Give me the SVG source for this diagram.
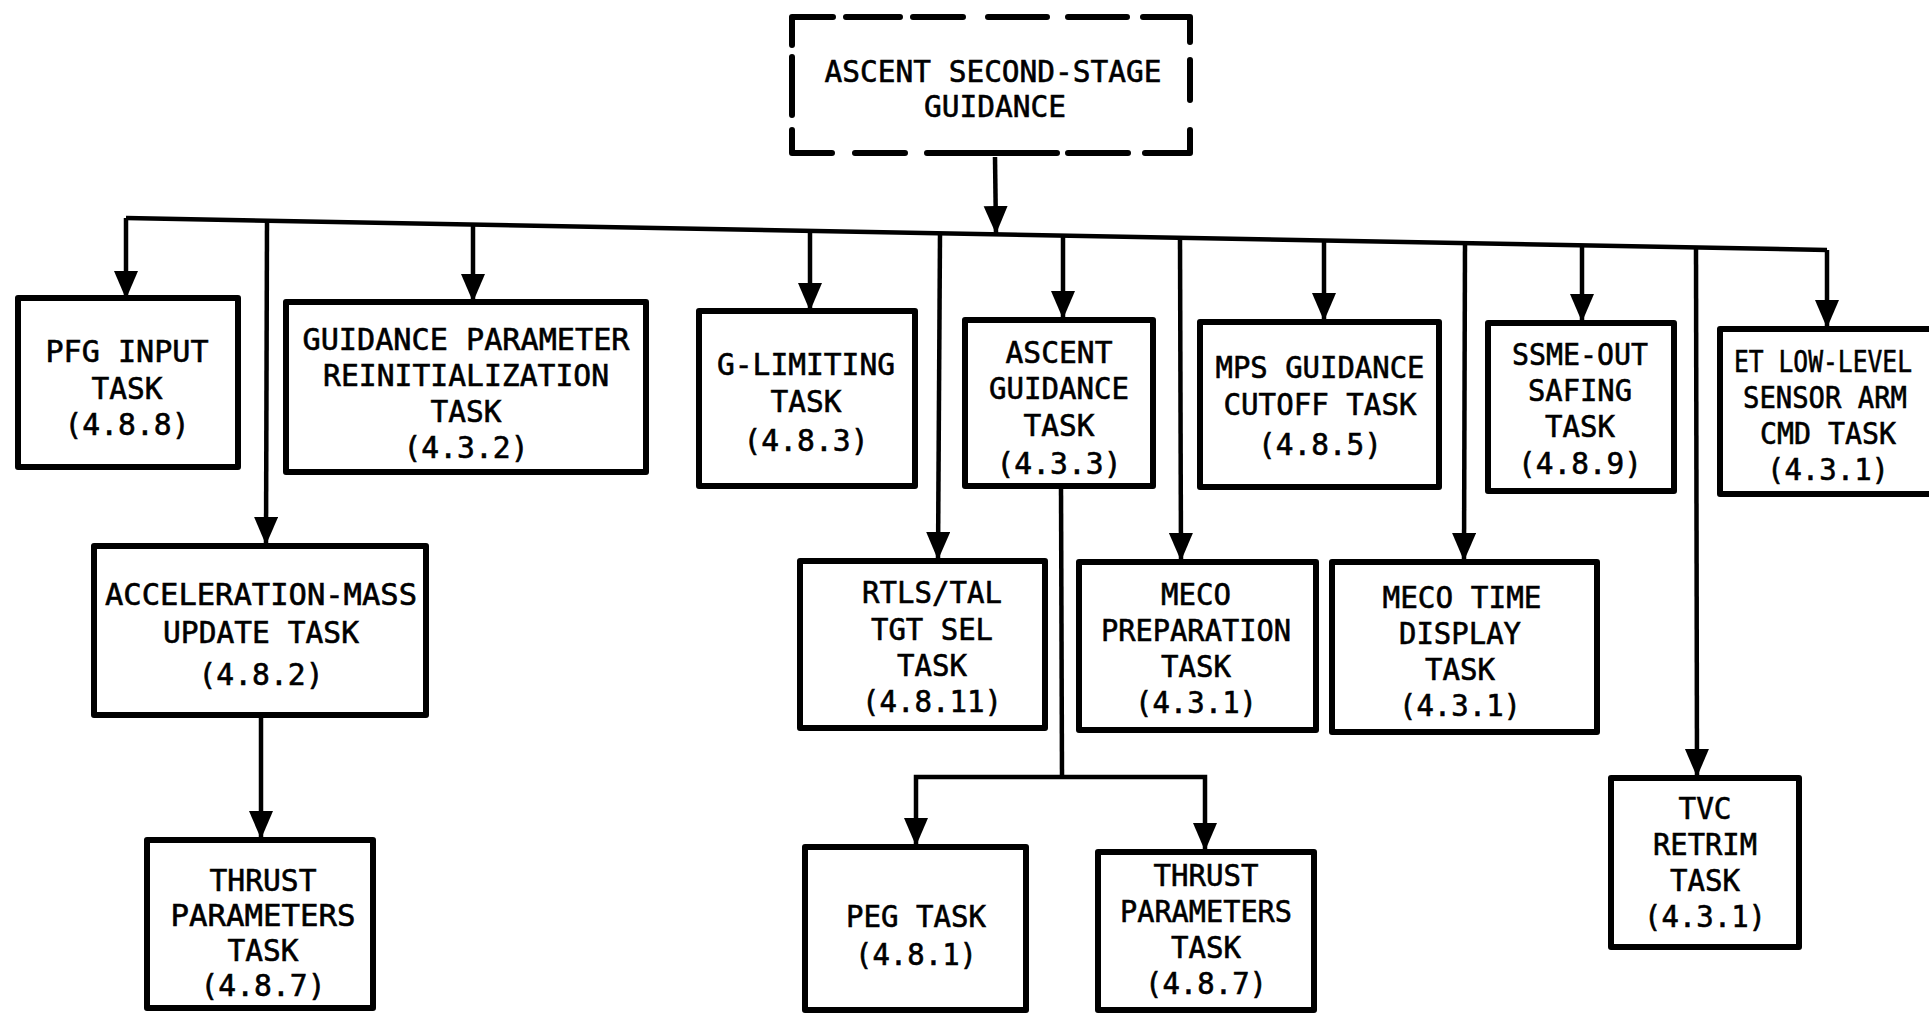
<svg xmlns="http://www.w3.org/2000/svg" width="1929" height="1013" viewBox="0 0 1929 1013">
<defs>
<style>
.box{fill:#fff;stroke:#000;stroke-width:6;stroke-linejoin:round}
.dash{fill:none;stroke:#000;stroke-width:6;stroke-linecap:round;stroke-linejoin:round}
.ln{fill:none;stroke:#000;stroke-width:4.5}
.ar{fill:none;stroke:#000;stroke-width:4.5;marker-end:url(#ah)}
text{font-family:"DejaVu Sans Mono","Liberation Mono",monospace;font-size:30px;fill:#000;stroke:#000;stroke-width:0.6;text-anchor:middle}
</style>
<marker id="ah" markerUnits="userSpaceOnUse" markerWidth="30" markerHeight="26" refX="28" refY="12" orient="auto" viewBox="0 0 30 26">
<path d="M0,0 L28,12 L0,24 Z" fill="#000"/>
</marker>
</defs>
<rect width="1929" height="1013" fill="#fff"/>

<g id="connectors">
<path class="ln" d="M126,218 L1827,250"/>
<path class="ar" d="M995,157 L996,234"/>
<path class="ar" d="M126,218 L126,299"/>
<path class="ar" d="M473,224.5 L473,302"/>
<path class="ar" d="M810,231 L810,311"/>
<path class="ar" d="M1063,235.6 L1063,319"/>
<path class="ar" d="M1324,240.5 L1324,321"/>
<path class="ar" d="M1582,245.4 L1582,322"/>
<path class="ar" d="M1827,250 L1827,328"/>
<path class="ar" d="M267,220.7 L266,545"/>
<path class="ar" d="M940,233.3 L938,560"/>
<path class="ar" d="M1180,237.8 L1181,561"/>
<path class="ar" d="M1465,243.2 L1464,561"/>
<path class="ar" d="M1696,247.5 L1697,777"/>
<path class="ar" d="M261,715 L261,839"/>
<path class="ln" d="M1061,486 L1062,777"/>
<path class="ar" d="M1062,777 L916,777 L916,846"/>
<path class="ar" d="M1062,777 L1205,777 L1205,851"/>
</g>

<g id="ascent-second-stage-guidance">
<path class="dash" d="M792,45 L792,17 L833,17 M846,17 L900,17 M913,17 L963,17 M988,17 L1047,17 M1068,17 L1127,17 M1143,17 L1190,17 L1190,42 M1190,60 L1190,100 M1190,130 L1190,153 L1145,153 M1128,153 L1068,153 M1057,153 L927,153 M905,153 L855,153 M832,153 L792,153 L792,130 M792,57 L792,115"/>
<text x="993" y="82" textLength="337" lengthAdjust="spacingAndGlyphs">ASCENT SECOND-STAGE</text>
<text x="995" y="117" textLength="142" lengthAdjust="spacingAndGlyphs">GUIDANCE</text>
</g>

<g id="pfg-input-task">
<rect class="box" x="18" y="298" width="220" height="169"/>
<text x="127" y="362" textLength="163" lengthAdjust="spacingAndGlyphs">PFG INPUT</text>
<text x="127" y="399" textLength="71" lengthAdjust="spacingAndGlyphs">TASK</text>
<text x="127" y="435" textLength="125" lengthAdjust="spacingAndGlyphs">(4.8.8)</text>
</g>

<g id="guidance-parameter-reinit-task">
<rect class="box" x="286" y="302" width="360" height="170"/>
<text x="466" y="350" textLength="327" lengthAdjust="spacingAndGlyphs">GUIDANCE PARAMETER</text>
<text x="466" y="386" textLength="286" lengthAdjust="spacingAndGlyphs">REINITIALIZATION</text>
<text x="466" y="422" textLength="71" lengthAdjust="spacingAndGlyphs">TASK</text>
<text x="466" y="458" textLength="125" lengthAdjust="spacingAndGlyphs">(4.3.2)</text>
</g>

<g id="g-limiting-task">
<rect class="box" x="699" y="311" width="216" height="175"/>
<text x="806" y="375" textLength="178" lengthAdjust="spacingAndGlyphs">G-LIMITING</text>
<text x="806" y="412" textLength="71" lengthAdjust="spacingAndGlyphs">TASK</text>
<text x="806" y="451" textLength="125" lengthAdjust="spacingAndGlyphs">(4.8.3)</text>
</g>

<g id="ascent-guidance-task">
<rect class="box" x="965" y="320" width="188" height="166"/>
<text x="1059" y="363" textLength="107" lengthAdjust="spacingAndGlyphs">ASCENT</text>
<text x="1059" y="399" textLength="140" lengthAdjust="spacingAndGlyphs">GUIDANCE</text>
<text x="1059" y="436" textLength="71" lengthAdjust="spacingAndGlyphs">TASK</text>
<text x="1059" y="474" textLength="125" lengthAdjust="spacingAndGlyphs">(4.3.3)</text>
</g>

<g id="mps-guidance-cutoff-task">
<rect class="box" x="1200" y="322" width="239" height="165"/>
<text x="1320" y="378" textLength="209" lengthAdjust="spacingAndGlyphs">MPS GUIDANCE</text>
<text x="1320" y="415" textLength="193" lengthAdjust="spacingAndGlyphs">CUTOFF TASK</text>
<text x="1320" y="455" textLength="124" lengthAdjust="spacingAndGlyphs">(4.8.5)</text>
</g>

<g id="ssme-out-safing-task">
<rect class="box" x="1488" y="323" width="186" height="168"/>
<text x="1580" y="365" textLength="136" lengthAdjust="spacingAndGlyphs">SSME-OUT</text>
<text x="1580" y="401" textLength="104" lengthAdjust="spacingAndGlyphs">SAFING</text>
<text x="1580" y="437" textLength="70" lengthAdjust="spacingAndGlyphs">TASK</text>
<text x="1580" y="474" textLength="124" lengthAdjust="spacingAndGlyphs">(4.8.9)</text>
</g>

<g id="et-low-level-sensor-arm-cmd-task">
<rect class="box" x="1720" y="329" width="230" height="165"/>
<text x="1823" y="372" textLength="178" lengthAdjust="spacingAndGlyphs">ET LOW-LEVEL</text>
<text x="1825" y="408" textLength="164" lengthAdjust="spacingAndGlyphs">SENSOR ARM</text>
<text x="1828" y="444" textLength="136" lengthAdjust="spacingAndGlyphs">CMD TASK</text>
<text x="1828" y="480" textLength="122" lengthAdjust="spacingAndGlyphs">(4.3.1)</text>
</g>

<g id="acceleration-mass-update-task">
<rect class="box" x="94" y="546" width="332" height="169"/>
<text x="261" y="605" textLength="312" lengthAdjust="spacingAndGlyphs">ACCELERATION-MASS</text>
<text x="261" y="643" textLength="196" lengthAdjust="spacingAndGlyphs">UPDATE TASK</text>
<text x="261" y="685" textLength="125" lengthAdjust="spacingAndGlyphs">(4.8.2)</text>
</g>

<g id="thrust-parameters-task-1">
<rect class="box" x="147" y="840" width="226" height="168"/>
<text x="263" y="891" textLength="107" lengthAdjust="spacingAndGlyphs">THRUST</text>
<text x="263" y="926" textLength="185" lengthAdjust="spacingAndGlyphs">PARAMETERS</text>
<text x="263" y="961" textLength="71" lengthAdjust="spacingAndGlyphs">TASK</text>
<text x="263" y="996" textLength="125" lengthAdjust="spacingAndGlyphs">(4.8.7)</text>
</g>

<g id="rtls-tal-tgt-sel-task">
<rect class="box" x="800" y="561" width="245" height="167"/>
<text x="932" y="603" textLength="140" lengthAdjust="spacingAndGlyphs">RTLS/TAL</text>
<text x="932" y="640" textLength="122" lengthAdjust="spacingAndGlyphs">TGT SEL</text>
<text x="932" y="676" textLength="70" lengthAdjust="spacingAndGlyphs">TASK</text>
<text x="932" y="712" textLength="140" lengthAdjust="spacingAndGlyphs">(4.8.11)</text>
</g>

<g id="meco-preparation-task">
<rect class="box" x="1079" y="562" width="237" height="168"/>
<text x="1196" y="605" textLength="70" lengthAdjust="spacingAndGlyphs">MECO</text>
<text x="1196" y="641" textLength="190" lengthAdjust="spacingAndGlyphs">PREPARATION</text>
<text x="1196" y="677" textLength="70" lengthAdjust="spacingAndGlyphs">TASK</text>
<text x="1196" y="713" textLength="122" lengthAdjust="spacingAndGlyphs">(4.3.1)</text>
</g>

<g id="meco-time-display-task">
<rect class="box" x="1332" y="562" width="265" height="170"/>
<text x="1462" y="608" textLength="159" lengthAdjust="spacingAndGlyphs">MECO TIME</text>
<text x="1460" y="644" textLength="122" lengthAdjust="spacingAndGlyphs">DISPLAY</text>
<text x="1460" y="680" textLength="70" lengthAdjust="spacingAndGlyphs">TASK</text>
<text x="1460" y="716" textLength="122" lengthAdjust="spacingAndGlyphs">(4.3.1)</text>
</g>

<g id="peg-task">
<rect class="box" x="805" y="847" width="221" height="163"/>
<text x="916" y="927" textLength="140" lengthAdjust="spacingAndGlyphs">PEG TASK</text>
<text x="916" y="965" textLength="122" lengthAdjust="spacingAndGlyphs">(4.8.1)</text>
</g>

<g id="thrust-parameters-task-2">
<rect class="box" x="1098" y="852" width="216" height="158"/>
<text x="1206" y="886" textLength="105" lengthAdjust="spacingAndGlyphs">THRUST</text>
<text x="1206" y="922" textLength="172" lengthAdjust="spacingAndGlyphs">PARAMETERS</text>
<text x="1206" y="958" textLength="70" lengthAdjust="spacingAndGlyphs">TASK</text>
<text x="1206" y="994" textLength="122" lengthAdjust="spacingAndGlyphs">(4.8.7)</text>
</g>

<g id="tvc-retrim-task">
<rect class="box" x="1611" y="778" width="188" height="169"/>
<text x="1705" y="819" textLength="53" lengthAdjust="spacingAndGlyphs">TVC</text>
<text x="1705" y="855" textLength="104" lengthAdjust="spacingAndGlyphs">RETRIM</text>
<text x="1705" y="891" textLength="70" lengthAdjust="spacingAndGlyphs">TASK</text>
<text x="1705" y="927" textLength="122" lengthAdjust="spacingAndGlyphs">(4.3.1)</text>
</g>
</svg>
